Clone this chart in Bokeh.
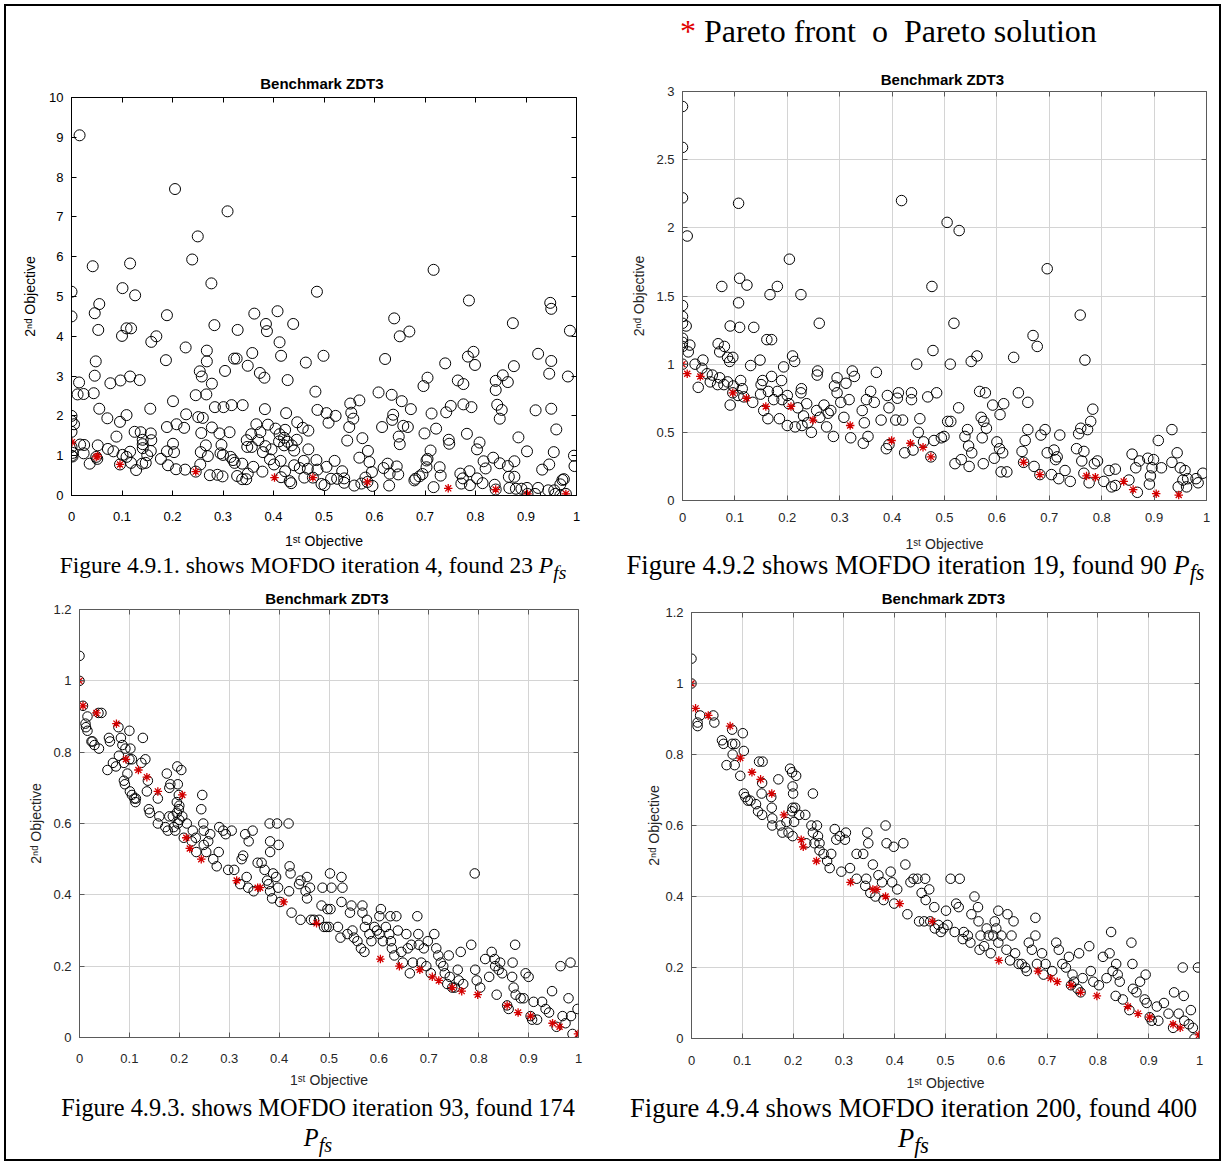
from bokeh.plotting import figure
from bokeh.layouts import column, row
from bokeh.models import (Div, Range1d, FixedTicker, LinearAxis,
                          PrintfTickFormatter, CustomJSTickFormatter)
from bokeh.embed import file_html
from bokeh.resources import INLINE

# ---------------- data ----------------
x_ticks = [0, 0.1, 0.2, 0.3, 0.4, 0.5, 0.6, 0.7, 0.8, 0.9, 1]
x_tick_labels = ["0", "0.1", "0.2", "0.3", "0.4", "0.5", "0.6", "0.7", "0.8", "0.9", "1"]

fig1_y_ticks = [0, 1, 2, 3, 4, 5, 6, 7, 8, 9, 10]
fig1_y_tick_labels = ["0", "1", "2", "3", "4", "5", "6", "7", "8", "9", "10"]
fig2_y_ticks = [0, 0.5, 1, 1.5, 2, 2.5, 3]
fig2_y_tick_labels = ["0", "0.5", "1", "1.5", "2", "2.5", "3"]
fig34_y_ticks = [0, 0.2, 0.4, 0.6, 0.8, 1, 1.2]
fig34_y_tick_labels = ["0", "0.2", "0.4", "0.6", "0.8", "1", "1.2"]

titles = ["Benchmark  ZDT3"] * 4
captions = [
    'Figure 4.9.1. shows MOFDO iteration 4, found 23 <i>P</i><sub><i>fs</i></sub>',
    'Figure 4.9.2 shows MOFDO iteration 19, found 90 <i>P</i><sub><i>fs</i></sub>',
    'Figure 4.9.3. shows MOFDO iteration 93, found 174<br><i>P</i><sub><i>fs</i></sub>',
    'Figure 4.9.4 shows MOFDO iteration 200, found 400<br><i>P</i><sub><i>fs</i></sub>',
]

# Pareto solutions (circles) and Pareto front (red stars): (1st objective, 2nd objective)
fig1_solution = [
    (0.016, 9.05), (0.205, 7.70), (0.309, 7.14), (0.250, 6.51), (0.239, 5.93), (0.042, 5.76),
    (0.116, 5.83), (0.717, 5.67), (0.277, 5.33), (0.101, 5.21), (0.126, 5.03), (0.000, 5.12),
    (0.486, 5.12), (0.787, 4.90), (0.055, 4.81), (0.046, 4.58), (0.948, 4.84), (0.950, 4.69),
    (0.000, 4.50), (0.189, 4.53), (0.362, 4.57), (0.408, 4.63), (0.639, 4.45), (0.109, 4.20),
    (0.118, 4.20), (0.053, 4.16), (0.283, 4.28), (0.329, 4.16), (0.385, 4.31), (0.387, 4.13),
    (0.439, 4.31), (0.874, 4.33), (0.987, 4.14), (0.100, 4.01), (0.168, 4.00), (0.158, 3.86),
    (0.650, 4.00), (0.669, 4.12), (0.412, 3.85), (0.226, 3.72), (0.268, 3.64), (0.415, 3.51),
    (0.358, 3.58), (0.796, 3.61), (0.499, 3.51), (0.924, 3.56), (0.785, 3.49), (0.048, 3.37),
    (0.187, 3.40), (0.268, 3.37), (0.322, 3.44), (0.327, 3.44), (0.464, 3.34), (0.621, 3.43),
    (0.740, 3.32), (0.799, 3.28), (0.950, 3.38), (0.349, 3.26), (0.876, 3.25), (0.254, 3.12),
    (0.304, 3.13), (0.373, 3.08), (0.946, 3.06), (0.854, 3.02), (0.046, 3.01), (0.116, 2.99),
    (0.258, 2.99), (0.382, 2.96), (0.705, 2.96), (0.983, 2.99), (0.097, 2.89), (0.135, 2.90),
    (0.428, 2.90), (0.765, 2.89), (0.015, 2.84), (0.077, 2.82), (0.776, 2.80), (0.840, 2.88),
    (0.864, 2.85), (0.697, 2.75), (0.278, 2.81), (0.840, 2.65), (0.012, 2.54), (0.024, 2.55),
    (0.044, 2.57), (0.246, 2.52), (0.267, 2.54), (0.483, 2.61), (0.608, 2.59), (0.634, 2.53),
    (0.570, 2.39), (0.552, 2.31), (0.654, 2.37), (0.201, 2.37), (0.843, 2.28), (0.776, 2.29),
    (0.792, 2.22), (0.317, 2.27), (0.301, 2.22), (0.339, 2.27), (0.055, 2.18), (0.156, 2.18),
    (0.284, 2.22), (0.383, 2.17), (0.487, 2.15), (0.751, 2.25), (0.672, 2.17), (0.950, 2.18),
    (0.919, 2.14), (0.852, 2.15), (0.742, 2.09), (0.425, 2.07), (0.554, 2.08), (0.713, 2.06),
    (0.848, 1.93), (0.109, 2.02), (0.227, 2.04), (0.637, 2.03), (0.505, 2.07), (0.523, 2.00),
    (0.000, 2.00), (0.000, 1.87), (0.005, 1.79), (0.071, 1.94), (0.251, 1.97), (0.260, 1.95),
    (0.558, 1.93), (0.635, 1.90), (0.096, 1.85), (0.509, 1.83), (0.366, 1.79), (0.389, 1.78),
    (0.447, 1.84), (0.657, 1.75), (0.666, 1.72), (0.189, 1.72), (0.208, 1.79), (0.223, 1.70),
    (0.278, 1.71), (0.404, 1.68), (0.423, 1.65), (0.458, 1.70), (0.469, 1.63), (0.550, 1.72),
    (0.615, 1.72), (0.722, 1.68), (0.960, 1.66), (0.125, 1.60), (0.137, 1.59), (0.157, 1.56),
    (0.257, 1.57), (0.293, 1.56), (0.313, 1.59), (0.356, 1.54), (0.374, 1.59), (0.412, 1.54),
    (0.699, 1.56), (0.783, 1.55), (0.000, 1.60), (0.089, 1.48), (0.421, 1.45), (0.648, 1.48),
    (0.885, 1.46), (0.747, 1.40), (0.141, 1.40), (0.158, 1.39), (0.347, 1.39), (0.370, 1.39),
    (0.411, 1.36), (0.428, 1.35), (0.446, 1.40), (0.546, 1.38), (0.576, 1.44), (0.808, 1.33),
    (0.201, 1.30), (0.141, 1.29), (0.017, 1.28), (0.025, 1.27), (0.052, 1.26), (0.748, 1.30),
    (0.650, 1.29), (0.348, 1.22), (0.357, 1.22), (0.384, 1.24), (0.421, 1.26), (0.436, 1.26),
    (0.266, 1.26), (0.297, 1.27), (0.000, 1.22), (0.072, 1.17), (0.141, 1.19), (0.157, 1.12),
    (0.396, 1.16), (0.441, 1.13), (0.469, 1.16), (0.803, 1.16), (0.002, 1.07), (0.024, 1.06),
    (0.083, 1.11), (0.116, 1.10), (0.189, 1.11), (0.203, 1.09), (0.256, 1.09), (0.295, 1.06),
    (0.379, 1.09), (0.711, 1.13), (0.902, 1.11), (0.955, 1.09), (0.000, 1.00), (0.002, 0.98),
    (0.049, 0.97), (0.051, 0.92), (0.101, 1.02), (0.109, 0.97), (0.150, 1.01), (0.177, 0.92),
    (0.270, 0.99), (0.300, 1.02), (0.315, 0.97), (0.995, 1.00), (0.705, 0.92), (0.703, 0.88),
    (0.036, 0.80), (0.096, 0.78), (0.118, 0.82), (0.128, 0.64), (0.140, 0.80), (0.147, 0.82),
    (0.191, 0.76), (0.207, 0.66), (0.225, 0.65), (0.246, 0.60), (0.255, 0.78), (0.274, 0.51),
    (0.289, 0.52), (0.299, 0.48), (0.320, 0.89), (0.323, 0.82), (0.338, 0.80), (0.328, 0.49),
    (0.338, 0.41), (0.346, 0.41), (0.349, 0.55), (0.360, 0.72), (0.378, 0.60), (0.393, 0.91),
    (0.401, 0.78), (0.414, 0.87), (0.415, 0.46), (0.423, 0.61), (0.432, 0.36), (0.435, 0.31),
    (0.441, 0.76), (0.452, 0.69), (0.460, 0.87), (0.461, 0.45), (0.468, 0.67), (0.478, 0.45),
    (0.485, 0.89), (0.487, 0.65), (0.495, 0.29), (0.501, 0.26), (0.505, 0.72), (0.514, 0.42),
    (0.521, 0.87), (0.526, 0.42), (0.536, 0.61), (0.540, 0.43), (0.540, 0.32), (0.560, 0.25),
    (0.570, 0.95), (0.574, 0.30), (0.582, 0.45), (0.586, 0.34), (0.587, 1.12), (0.590, 0.84),
    (0.595, 0.59), (0.596, 0.24), (0.618, 0.69), (0.626, 0.80), (0.629, 0.25), (0.630, 0.55),
    (0.644, 0.73), (0.647, 0.53), (0.679, 0.38), (0.681, 0.42), (0.689, 0.48), (0.695, 0.54),
    (0.703, 0.71), (0.717, 0.21), (0.729, 0.71), (0.731, 0.50), (0.770, 0.55), (0.772, 0.30),
    (0.775, 0.43), (0.788, 0.61), (0.789, 0.26), (0.803, 0.43), (0.814, 0.31), (0.816, 0.86),
    (0.820, 0.68), (0.835, 0.95), (0.838, 0.27), (0.840, 0.15), (0.848, 0.81), (0.864, 0.74),
    (0.866, 0.47), (0.867, 0.19), (0.877, 0.86), (0.877, 0.47), (0.880, 0.17), (0.891, 0.17),
    (0.902, 0.19), (0.903, 0.04), (0.918, 0.04), (0.924, 0.19), (0.932, 0.65), (0.944, 0.13),
    (0.946, 0.78), (0.956, 0.13), (0.958, 0.04), (0.968, 0.28), (0.972, 0.39), (0.975, 0.41),
    (0.979, 0.04), (0.968, 0.00), (0.996, 0.74),
]
fig1_front = [
    (0.001, 1.34), (0.049, 0.97), (0.052, 0.99), (0.096, 0.78), (0.246, 0.60), (0.402, 0.45),
    (0.478, 0.45), (0.586, 0.34), (0.746, 0.18), (0.840, 0.15), (0.903, 0.04), (0.979, 0.04),
]

fig2_solution = [
    (0.000, 2.89), (0.000, 2.59), (0.000, 2.22), (0.009, 1.94), (0.107, 2.18), (0.418, 2.20),
    (0.505, 2.04), (0.528, 1.98), (0.204, 1.77), (0.696, 1.70), (0.109, 1.63), (0.123, 1.58),
    (0.075, 1.57), (0.181, 1.57), (0.167, 1.51), (0.226, 1.51), (0.476, 1.57), (0.107, 1.45),
    (0.000, 1.43), (0.000, 1.35), (0.000, 1.30), (0.007, 1.28), (0.759, 1.36), (0.091, 1.28),
    (0.109, 1.27), (0.136, 1.27), (0.261, 1.30), (0.518, 1.30), (0.669, 1.21), (0.677, 1.13),
    (0.161, 1.18), (0.170, 1.18), (0.000, 1.19), (0.000, 1.16), (0.000, 1.13), (0.014, 1.14),
    (0.011, 1.09), (0.068, 1.15), (0.080, 1.13), (0.071, 1.09), (0.086, 1.05), (0.096, 1.05),
    (0.090, 1.02), (0.148, 1.03), (0.210, 1.06), (0.214, 1.02), (0.039, 1.03), (0.478, 1.10),
    (0.768, 1.03), (0.632, 1.05), (0.562, 1.06), (0.551, 1.02), (0.511, 1.00), (0.447, 1.00),
    (0.130, 0.99), (0.193, 0.98), (0.000, 1.00), (0.024, 1.00), (0.037, 0.97), (0.047, 0.93),
    (0.057, 0.92), (0.071, 0.90), (0.053, 0.87), (0.067, 0.85), (0.079, 0.85), (0.086, 0.87),
    (0.030, 0.83), (0.097, 0.84), (0.111, 0.88), (0.114, 0.82), (0.096, 0.79), (0.106, 0.77),
    (0.117, 0.76), (0.091, 0.70), (0.134, 0.72), (0.150, 0.85), (0.153, 0.88), (0.149, 0.78),
    (0.170, 0.91), (0.189, 0.88), (0.164, 0.80), (0.181, 0.80), (0.155, 0.66), (0.163, 0.60),
    (0.185, 0.60), (0.174, 0.74), (0.190, 0.74), (0.200, 0.77), (0.203, 0.71), (0.227, 0.82),
    (0.226, 0.79), (0.220, 0.68), (0.231, 0.62), (0.200, 0.55), (0.215, 0.54), (0.228, 0.55),
    (0.237, 0.71), (0.246, 0.50), (0.239, 0.57), (0.257, 0.92), (0.258, 0.95), (0.256, 0.66),
    (0.262, 0.61), (0.270, 0.70), (0.275, 0.54), (0.278, 0.64), (0.283, 0.66), (0.288, 0.47),
    (0.290, 0.84), (0.295, 0.90), (0.295, 0.79), (0.302, 0.72), (0.308, 0.61), (0.312, 0.86),
    (0.318, 0.74), (0.321, 0.46), (0.324, 0.95), (0.328, 0.91), (0.343, 0.66), (0.347, 0.57),
    (0.345, 0.42), (0.351, 0.74), (0.354, 0.47), (0.359, 0.80), (0.366, 0.72), (0.370, 0.94),
    (0.379, 0.59), (0.391, 0.77), (0.394, 0.68), (0.389, 0.38), (0.394, 0.41), (0.407, 0.59),
    (0.412, 0.79), (0.410, 0.75), (0.420, 0.59), (0.424, 0.35), (0.437, 0.79), (0.437, 0.74),
    (0.440, 0.37), (0.453, 0.60), (0.450, 0.50), (0.460, 0.43), (0.468, 0.76), (0.474, 0.32),
    (0.485, 0.79), (0.480, 0.44), (0.494, 0.46), (0.499, 0.47), (0.506, 0.58), (0.512, 0.58),
    (0.520, 0.27), (0.527, 0.68), (0.532, 0.30), (0.539, 0.47), (0.544, 0.52), (0.546, 0.40),
    (0.547, 0.25), (0.552, 0.35), (0.567, 0.80), (0.578, 0.79), (0.570, 0.61), (0.575, 0.58),
    (0.580, 0.53), (0.572, 0.46), (0.574, 0.27), (0.592, 0.70), (0.595, 0.31), (0.600, 0.43),
    (0.605, 0.38), (0.608, 0.21), (0.611, 0.35), (0.613, 0.71), (0.606, 0.63), (0.619, 0.21),
    (0.641, 0.79), (0.659, 0.72), (0.648, 0.36), (0.651, 0.28), (0.654, 0.44), (0.659, 0.52),
    (0.671, 0.25), (0.682, 0.19), (0.684, 0.48), (0.692, 0.52), (0.696, 0.35), (0.704, 0.19),
    (0.709, 0.37), (0.712, 0.30), (0.715, 0.32), (0.718, 0.16), (0.720, 0.48), (0.730, 0.22),
    (0.740, 0.14), (0.752, 0.38), (0.756, 0.49), (0.760, 0.53), (0.766, 0.36), (0.773, 0.52),
    (0.779, 0.58), (0.783, 0.67), (0.762, 0.29), (0.766, 0.20), (0.776, 0.13), (0.786, 0.27),
    (0.792, 0.29), (0.804, 0.14), (0.814, 0.22), (0.819, 0.10), (0.826, 0.23), (0.826, 0.11),
    (0.858, 0.34), (0.852, 0.15), (0.868, 0.06), (0.865, 0.24), (0.872, 0.29), (0.888, 0.31),
    (0.896, 0.24), (0.893, 0.18), (0.891, 0.12), (0.899, 0.30), (0.908, 0.44), (0.914, 0.24),
    (0.934, 0.52), (0.934, 0.28), (0.944, 0.35), (0.946, 0.10), (0.950, 0.24), (0.959, 0.22),
    (0.955, 0.15), (0.964, 0.16), (0.962, 0.10), (0.980, 0.16), (0.984, 0.13), (0.993, 0.20),
]
fig2_front = [
    (0.000, 1.00), (0.009, 0.93), (0.034, 0.91), (0.096, 0.79), (0.122, 0.75), (0.159, 0.69),
    (0.207, 0.69), (0.249, 0.59), (0.320, 0.55), (0.399, 0.44), (0.435, 0.42), (0.459, 0.39),
    (0.474, 0.32), (0.651, 0.28), (0.682, 0.19), (0.771, 0.18), (0.788, 0.17), (0.842, 0.14),
    (0.860, 0.08), (0.904, 0.05), (0.947, 0.04),
]

fig3_solution = [
    (0.000, 1.07), (0.000, 1.00), (0.007, 0.93), (0.038, 0.91), (0.044, 0.91), (0.016, 0.90),
    (0.012, 0.88), (0.013, 0.87), (0.016, 0.86), (0.024, 0.83), (0.026, 0.83), (0.030, 0.82),
    (0.039, 0.81), (0.078, 0.87), (0.100, 0.86), (0.127, 0.84), (0.059, 0.84), (0.061, 0.83),
    (0.083, 0.84), (0.086, 0.82), (0.092, 0.81), (0.102, 0.81), (0.056, 0.75), (0.067, 0.77),
    (0.073, 0.76), (0.079, 0.79), (0.089, 0.77), (0.096, 0.74), (0.100, 0.78), (0.105, 0.78),
    (0.089, 0.72), (0.091, 0.71), (0.101, 0.69), (0.105, 0.68), (0.110, 0.67), (0.113, 0.67),
    (0.112, 0.66), (0.124, 0.77), (0.132, 0.78), (0.137, 0.72), (0.135, 0.69), (0.139, 0.64),
    (0.141, 0.63), (0.157, 0.67), (0.157, 0.60), (0.160, 0.62), (0.175, 0.74), (0.180, 0.70),
    (0.182, 0.71), (0.180, 0.62), (0.172, 0.59), (0.187, 0.62), (0.189, 0.59), (0.177, 0.58),
    (0.196, 0.76), (0.204, 0.75), (0.197, 0.71), (0.199, 0.68), (0.195, 0.66), (0.200, 0.65),
    (0.199, 0.64), (0.195, 0.63), (0.197, 0.60), (0.192, 0.58), (0.206, 0.62), (0.200, 0.61),
    (0.209, 0.56), (0.215, 0.60), (0.225, 0.55), (0.227, 0.58), (0.233, 0.56), (0.234, 0.52),
    (0.244, 0.64), (0.246, 0.68), (0.248, 0.60), (0.249, 0.58), (0.249, 0.54), (0.254, 0.52),
    (0.258, 0.55), (0.262, 0.57), (0.268, 0.50), (0.275, 0.48), (0.279, 0.52), (0.280, 0.59),
    (0.288, 0.58), (0.293, 0.57), (0.298, 0.47), (0.305, 0.58), (0.310, 0.47), (0.322, 0.43),
    (0.332, 0.57), (0.339, 0.55), (0.347, 0.58), (0.328, 0.51), (0.325, 0.50), (0.335, 0.45),
    (0.338, 0.42), (0.349, 0.41), (0.357, 0.49), (0.365, 0.49), (0.371, 0.47), (0.376, 0.44),
    (0.379, 0.43), (0.382, 0.41), (0.386, 0.39), (0.381, 0.60), (0.396, 0.60), (0.382, 0.55),
    (0.399, 0.54), (0.382, 0.52), (0.388, 0.46), (0.394, 0.45), (0.398, 0.42), (0.402, 0.38),
    (0.419, 0.60), (0.421, 0.48), (0.423, 0.46), (0.420, 0.41), (0.425, 0.35), (0.443, 0.44),
    (0.440, 0.43), (0.443, 0.33), (0.456, 0.45), (0.453, 0.41), (0.456, 0.39), (0.462, 0.42),
    (0.464, 0.33), (0.470, 0.33), (0.480, 0.33), (0.485, 0.37), (0.487, 0.42), (0.490, 0.31),
    (0.495, 0.31), (0.500, 0.31), (0.502, 0.46), (0.497, 0.36), (0.505, 0.42), (0.503, 0.36),
    (0.518, 0.31), (0.523, 0.28), (0.525, 0.45), (0.527, 0.42), (0.525, 0.38), (0.537, 0.29),
    (0.542, 0.35), (0.545, 0.37), (0.550, 0.28), (0.547, 0.30), (0.557, 0.27), (0.564, 0.25),
    (0.567, 0.35), (0.567, 0.37), (0.571, 0.24), (0.572, 0.31), (0.576, 0.33), (0.581, 0.29),
    (0.585, 0.27), (0.591, 0.31), (0.596, 0.30), (0.601, 0.29), (0.604, 0.36), (0.601, 0.34),
    (0.608, 0.27), (0.614, 0.31), (0.621, 0.29), (0.623, 0.34), (0.624, 0.27), (0.626, 0.25),
    (0.631, 0.23), (0.635, 0.34), (0.638, 0.30), (0.645, 0.24), (0.648, 0.21), (0.655, 0.29),
    (0.658, 0.25), (0.662, 0.18), (0.665, 0.26), (0.668, 0.21), (0.677, 0.34), (0.679, 0.29),
    (0.680, 0.26), (0.685, 0.21), (0.690, 0.25), (0.695, 0.20), (0.698, 0.27), (0.704, 0.18),
    (0.711, 0.29), (0.715, 0.25), (0.719, 0.23), (0.724, 0.21), (0.729, 0.20), (0.732, 0.18),
    (0.737, 0.15), (0.740, 0.23), (0.742, 0.17), (0.747, 0.14), (0.752, 0.14), (0.758, 0.19),
    (0.760, 0.16), (0.764, 0.24), (0.769, 0.15), (0.785, 0.26), (0.792, 0.46), (0.793, 0.19),
    (0.796, 0.16), (0.803, 0.14), (0.813, 0.22), (0.821, 0.17), (0.826, 0.24), (0.832, 0.22),
    (0.833, 0.20), (0.836, 0.12), (0.840, 0.19), (0.843, 0.21), (0.847, 0.18), (0.857, 0.09),
    (0.860, 0.08), (0.867, 0.17), (0.868, 0.21), (0.873, 0.26), (0.870, 0.14), (0.874, 0.12),
    (0.884, 0.11), (0.890, 0.11), (0.894, 0.18), (0.900, 0.17), (0.904, 0.06), (0.907, 0.05),
    (0.910, 0.10), (0.917, 0.05), (0.927, 0.10), (0.934, 0.08), (0.941, 0.07), (0.947, 0.13),
    (0.956, 0.03), (0.964, 0.20), (0.968, 0.06), (0.974, 0.04), (0.980, 0.11), (0.984, 0.21),
    (0.985, 0.06), (0.988, 0.01), (0.998, 0.08),
]
fig3_front = [
    (0.000, 1.00), (0.007, 0.93), (0.034, 0.91), (0.074, 0.88), (0.093, 0.78), (0.118, 0.75),
    (0.135, 0.73), (0.157, 0.69), (0.206, 0.68), (0.214, 0.56), (0.221, 0.53), (0.244, 0.50),
    (0.315, 0.44), (0.357, 0.42), (0.362, 0.42), (0.409, 0.38), (0.475, 0.32), (0.603, 0.22),
    (0.641, 0.20), (0.682, 0.19), (0.707, 0.17), (0.720, 0.16), (0.747, 0.14), (0.766, 0.13),
    (0.798, 0.12), (0.857, 0.09), (0.879, 0.07), (0.904, 0.06), (0.948, 0.04), (0.962, 0.03),
    (0.999, 0.01),
]

fig4_solution = [
    (0.000, 1.07), (0.000, 1.00), (0.043, 0.91), (0.045, 0.89), (0.012, 0.89), (0.012, 0.88),
    (0.017, 0.91), (0.080, 0.87), (0.101, 0.86), (0.060, 0.84), (0.063, 0.83), (0.080, 0.83),
    (0.086, 0.83), (0.103, 0.81), (0.081, 0.80), (0.069, 0.77), (0.085, 0.77), (0.096, 0.74),
    (0.133, 0.78), (0.140, 0.78), (0.139, 0.72), (0.138, 0.69), (0.103, 0.69), (0.106, 0.68),
    (0.111, 0.67), (0.116, 0.67), (0.127, 0.66), (0.131, 0.64), (0.139, 0.63), (0.157, 0.68),
    (0.158, 0.65), (0.159, 0.62), (0.159, 0.60), (0.171, 0.73), (0.175, 0.60), (0.179, 0.58),
    (0.187, 0.61), (0.191, 0.58), (0.194, 0.76), (0.198, 0.75), (0.206, 0.74), (0.199, 0.71),
    (0.200, 0.69), (0.199, 0.65), (0.204, 0.65), (0.198, 0.64), (0.202, 0.61), (0.199, 0.57),
    (0.212, 0.63), (0.226, 0.55), (0.224, 0.63), (0.239, 0.69), (0.236, 0.60), (0.239, 0.58),
    (0.242, 0.55), (0.247, 0.60), (0.249, 0.57), (0.252, 0.53), (0.252, 0.55), (0.260, 0.52),
    (0.267, 0.50), (0.272, 0.48), (0.275, 0.52), (0.282, 0.59), (0.285, 0.56), (0.292, 0.57),
    (0.295, 0.47), (0.304, 0.58), (0.302, 0.56), (0.312, 0.48), (0.325, 0.52), (0.325, 0.45),
    (0.338, 0.52), (0.342, 0.43), (0.346, 0.58), (0.348, 0.55), (0.344, 0.45), (0.352, 0.41),
    (0.357, 0.49), (0.362, 0.40), (0.368, 0.46), (0.375, 0.44), (0.378, 0.39), (0.382, 0.60),
    (0.384, 0.55), (0.392, 0.47), (0.395, 0.44), (0.398, 0.54), (0.399, 0.38), (0.405, 0.42),
    (0.417, 0.55), (0.421, 0.49), (0.425, 0.35), (0.431, 0.44), (0.437, 0.45), (0.445, 0.45),
    (0.448, 0.33), (0.453, 0.41), (0.458, 0.33), (0.460, 0.45), (0.461, 0.39), (0.468, 0.42),
    (0.470, 0.33), (0.478, 0.37), (0.479, 0.31), (0.486, 0.32), (0.491, 0.30), (0.496, 0.31),
    (0.501, 0.36), (0.504, 0.32), (0.510, 0.45), (0.518, 0.30), (0.521, 0.38), (0.526, 0.37),
    (0.528, 0.45), (0.534, 0.28), (0.536, 0.30), (0.544, 0.29), (0.549, 0.27), (0.551, 0.35),
    (0.557, 0.40), (0.564, 0.37), (0.565, 0.33), (0.569, 0.29), (0.567, 0.25), (0.576, 0.26),
    (0.581, 0.31), (0.585, 0.29), (0.589, 0.24), (0.594, 0.29), (0.597, 0.33), (0.600, 0.31),
    (0.604, 0.36), (0.604, 0.27), (0.610, 0.29), (0.620, 0.25), (0.622, 0.35), (0.627, 0.22),
    (0.630, 0.29), (0.634, 0.33), (0.637, 0.24), (0.644, 0.21), (0.650, 0.21), (0.657, 0.20),
    (0.660, 0.19), (0.664, 0.27), (0.670, 0.25), (0.677, 0.34), (0.677, 0.29), (0.680, 0.21),
    (0.690, 0.24), (0.693, 0.18), (0.697, 0.21), (0.710, 0.19), (0.718, 0.27), (0.723, 0.25),
    (0.730, 0.21), (0.737, 0.20), (0.743, 0.23), (0.747, 0.15), (0.750, 0.18), (0.753, 0.16),
    (0.760, 0.14), (0.763, 0.24), (0.766, 0.13), (0.770, 0.17), (0.783, 0.26), (0.786, 0.19),
    (0.791, 0.16), (0.802, 0.15), (0.810, 0.23), (0.817, 0.17), (0.823, 0.24), (0.826, 0.30),
    (0.829, 0.19), (0.836, 0.21), (0.839, 0.18), (0.835, 0.12), (0.843, 0.16), (0.849, 0.11),
    (0.862, 0.08), (0.866, 0.27), (0.868, 0.21), (0.869, 0.14), (0.876, 0.13), (0.883, 0.16),
    (0.892, 0.11), (0.894, 0.18), (0.896, 0.10), (0.902, 0.06), (0.906, 0.05), (0.916, 0.09),
    (0.919, 0.05), (0.930, 0.10), (0.939, 0.07), (0.948, 0.03), (0.950, 0.13), (0.959, 0.07),
    (0.967, 0.20), (0.969, 0.12), (0.970, 0.05), (0.979, 0.04), (0.983, 0.08), (0.987, 0.03),
    (0.990, 0.00), (0.997, 0.20),
]
fig4_front = [
    (0.000, 1.00), (0.008, 0.93), (0.033, 0.91), (0.076, 0.88), (0.096, 0.79), (0.119, 0.75),
    (0.136, 0.73), (0.158, 0.69), (0.182, 0.63), (0.216, 0.56), (0.220, 0.54), (0.246, 0.50),
    (0.313, 0.44), (0.357, 0.42), (0.365, 0.42), (0.382, 0.40), (0.410, 0.38), (0.474, 0.33),
    (0.605, 0.22), (0.682, 0.19), (0.707, 0.17), (0.720, 0.16), (0.747, 0.15), (0.766, 0.13),
    (0.798, 0.12), (0.859, 0.09), (0.879, 0.07), (0.902, 0.06), (0.948, 0.04), (0.962, 0.03),
    (0.999, 0.01),
]

# ---------------- helpers ----------------
SANS = "Liberation Sans"
SERIF = "Liberation Serif"


def style_axis(ax, ticks, labels, color, text_color, label, tick_standoff, label_standoff):
    ax.ticker = FixedTicker(ticks=ticks)
    ax.formatter = PrintfTickFormatter(format="%g")
    ax.major_label_overrides = dict(zip(ticks, labels))
    ax.axis_line_color = color
    ax.major_tick_line_color = color
    ax.major_tick_in = 5
    ax.major_tick_out = 0
    ax.minor_tick_line_color = None
    ax.major_label_text_font = SANS
    ax.major_label_text_font_size = "13px"
    ax.major_label_text_color = text_color
    ax.major_label_standoff = tick_standoff
    ax.axis_label = label
    ax.axis_label_text_font = SANS
    ax.axis_label_text_font_size = "14px"
    ax.axis_label_text_font_style = "normal"
    ax.axis_label_text_color = text_color
    ax.axis_label_standoff = label_standoff


def mirror_axis(p, ticks, color, side):
    ax = LinearAxis(ticker=FixedTicker(ticks=ticks),
                    formatter=CustomJSTickFormatter(code="return ''"),
                    major_label_text_font_size="0px", major_label_standoff=0,
                    major_tick_in=5, major_tick_out=0, minor_tick_line_color=None,
                    axis_line_color=None, major_tick_line_color=color)
    p.add_layout(ax, side)


def panel(sol, front, y_max, y_ticks, y_labels, spec):
    p = figure(width=spec["w"], height=spec["h"],
               x_range=Range1d(0, 1), y_range=Range1d(0, y_max),
               output_backend="svg", toolbar_location=None, tools="",
               title=spec["title"], frame_align=False,
               min_border_left=spec["l"], min_border_right=spec["r"],
               min_border_top=spec["t"], min_border_bottom=spec["b"])
    p.background_fill_color = "white"
    p.border_fill_color = None
    p.outline_line_color = spec["axis"]
    p.outline_line_width = 1
    p.title.align = "center"
    p.title.text_font = SANS
    p.title.text_font_size = "15px"
    p.title.text_font_style = "bold"
    p.title.text_color = "black"
    p.title.standoff = spec["ts"]

    style_axis(p.xaxis[0], x_ticks, x_tick_labels, spec["axis"], spec["text"],
               "1\u02e2\u1d57 Objective", spec["xs"], spec["xls"])
    style_axis(p.yaxis[0], y_ticks, y_labels, spec["axis"], spec["text"],
               "2\u207f\u1d48 Objective", 8, spec["yls"])
    mirror_axis(p, x_ticks, spec["axis"], "above")
    mirror_axis(p, y_ticks, spec["axis"], "right")

    if spec["grid"]:
        p.xgrid.grid_line_color = "#d4d4d4"
        p.ygrid.grid_line_color = "#d4d4d4"
    else:
        p.xgrid.grid_line_color = None
        p.ygrid.grid_line_color = None

    sx = [a for a, b in sol]
    sy = [b for a, b in sol]
    fx = [a for a, b in front]
    fy = [b for a, b in front]
    p.scatter(sx, sy, marker="circle", size=spec["ms"], fill_color=None,
              line_color="black", line_width=1)
    p.scatter(fx, fy, marker="asterisk", size=8.5, line_color="#d40000", line_width=1.3)
    return p


spec1 = dict(w=610, h=498, l=65, r=40, t=41, b=59, axis="black", text="black",
             grid=False, ts=12, xs=16, xls=9, yls=8, ms=11, title=titles[0])
spec2 = dict(w=603, h=498, l=66, r=13, t=35, b=52, axis="#5a5a5a", text="#262626",
             grid=True, ts=7, xs=12, xls=11, yls=6, ms=10.5, title=titles[1])
spec3 = dict(w=610, h=511, l=73, r=38, t=27, b=56, axis="#5a5a5a", text="#262626",
             grid=True, ts=6, xs=16, xls=6, yls=6, ms=9.5, title=titles[2])
spec4 = dict(w=603, h=511, l=75, r=20, t=30, b=53, axis="#5a5a5a", text="#262626",
             grid=True, ts=11, xs=17, xls=7, yls=0, ms=9.5, title=titles[3])

p1 = panel(fig1_solution, fig1_front, 10, fig1_y_ticks, fig1_y_tick_labels, spec1)
p2 = panel(fig2_solution, fig2_front, 3, fig2_y_ticks, fig2_y_tick_labels, spec2)
p3 = panel(fig3_solution, fig3_front, 1.2, fig34_y_ticks, fig34_y_tick_labels, spec3)
p4 = panel(fig4_solution, fig4_front, 1.2, fig34_y_ticks, fig34_y_tick_labels, spec4)

legend_html = (
    '<div style="padding-left:674px;padding-top:7px;font-family:\'Liberation Serif\';'
    'font-size:32px;line-height:36px;color:black;white-space:nowrap;">'
    '<span style="color:#e00000;">*</span> Pareto front&nbsp; '
    'o&nbsp; Pareto solution</div>'
)
legend = Div(text=legend_html, width=1213, height=50, margin=0)


def caption(html, w, h, lh, fs, shift):
    inner = '<div style="position:relative;left:%dpx;">%s</div>' % (shift, html)
    return Div(text=inner, width=w, height=h, margin=0,
               styles={"font-family": SERIF, "font-size": fs, "line-height": lh,
                       "text-align": "center", "color": "black", "white-space": "nowrap",
                       "overflow": "visible"})


c1 = caption(captions[0], 610, 28, "22px", "23.5px", 2)
c2 = caption(captions[1], 603, 28, "22px", "26.5px", -2)
c3 = caption(captions[2], 610, 66, "30px", "24.3px", 7)
c4 = caption(captions[3], 603, 66, "30px", "26.5px", -4)

layout = column(
    legend,
    row(p1, p2, margin=0),
    row(c1, c2, margin=0),
    row(p3, p4, margin=0),
    row(c3, c4, margin=0),
    margin=(4, 0, 0, 4),
    styles={"border": "2px solid black", "background-color": "white"},
)

open("out.html", "w").write(file_html(layout, INLINE, title="ZDT3"))
